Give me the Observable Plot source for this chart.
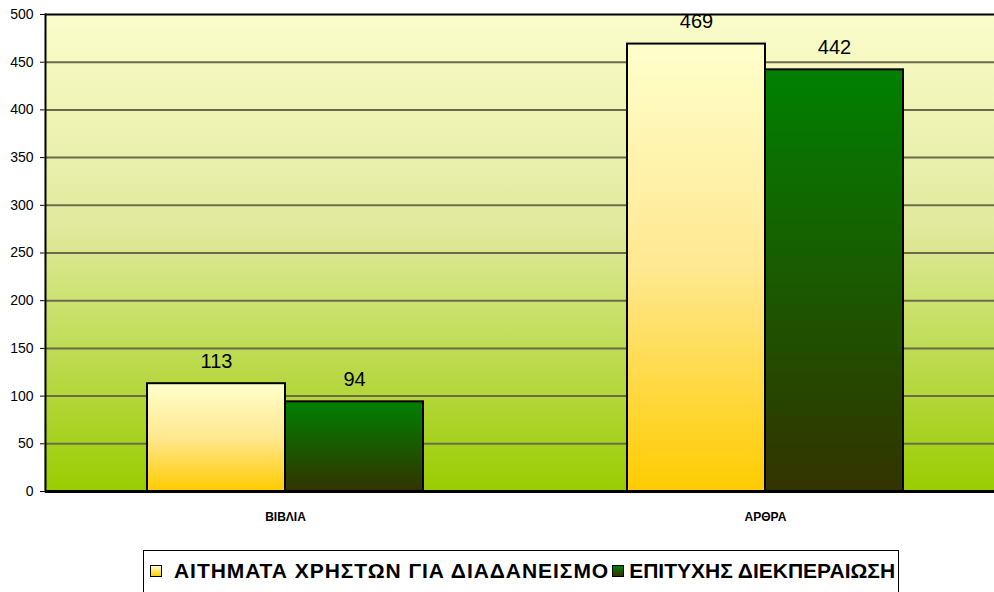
<!DOCTYPE html>
<html>
<head>
<meta charset="utf-8">
<script src="https://cdn.jsdelivr.net/npm/d3@7"></script>
<script src="https://cdn.jsdelivr.net/npm/@observablehq/plot@0.6"></script>
<style>
  body { margin: 0; background: #fff; font-family: "Liberation Sans", Arial, sans-serif; }
  #chart { width: 994px; height: 540px; overflow: hidden; }
  #legend {
    position: absolute; left: 143px; top: 550px; width: 756px; height: 50px;
    border: 1px solid #000; box-sizing: border-box; background: #fff;
    display: flex; align-items: flex-start; padding-top: 8px; padding-left: 6px;
    font-weight: bold; font-size: 21px; color: #000; white-space: nowrap;
  }
  .sw { display: inline-block; width: 10px; height: 10px; border: 1.5px solid #000; margin: 6px 12px 0 0; }
  .item { display: flex; align-items: flex-start; }
  .item.i0 { letter-spacing: 0.95px; margin-right: 3px; }
  .item.i1 { letter-spacing: 0px; }
  .item.i1 .sw { margin-right: 5px; }
</style>
</head>
<body>
<div id="chart"></div>
<div id="legend"></div>
<script>
const categories = ["ΒΙΒΛΙΑ", "ΑΡΘΡΑ"];
const seriesNames = ["ΑΙΤΗΜΑΤΑ ΧΡΗΣΤΩΝ ΓΙΑ ΔΙΑΔΑΝΕΙΣΜΟ", "ΕΠΙΤΥΧΗΣ ΔΙΕΚΠΕΡΑΙΩΣΗ"];
const requests = [113, 469];
const completed = [94, 442];
const yTicks = [0, 50, 100, 150, 200, 250, 300, 350, 400, 450, 500];

const data = categories.flatMap((c, i) => [
  {category: c, series: seriesNames[0], value: requests[i]},
  {category: c, series: seriesNames[1], value: completed[i]}
]);
const dataA = data.filter(d => d.series === seriesNames[0]);
const dataB = data.filter(d => d.series === seriesNames[1]);

const plot = Plot.plot({
  width: 994,
  height: 540,
  marginLeft: 45,
  marginRight: -11,
  marginTop: 14,
  marginBottom: 49,
  style: {fontFamily: "Liberation Sans, Arial, sans-serif", fontSize: "14px", color: "#000", background: "transparent", overflow: "visible"},
  fx: {domain: categories, padding: 0, label: null, tickSize: 0, tickPadding: 21},
  x: {domain: seriesNames, paddingInner: 0, paddingOuter: 0.739, axis: null},
  y: {domain: [0, 500], ticks: yTicks, tickSize: 5, tickPadding: 7, label: null},
  marks: [
    Plot.frame({fill: "url(#bgGrad)", stroke: null, insetLeft: -1, insetRight: -1}),
    Plot.ruleY(yTicks.filter(t => t > 0 && t < 500), {stroke: "#6b6b4c", strokeWidth: 2}),
    Plot.barY(dataA, {fx: "category", x: "series", y: "value", fill: "url(#gradA)", stroke: "#000", strokeWidth: 2}),
    Plot.barY(dataB, {fx: "category", x: "series", y: "value", fill: "url(#gradB)", stroke: "#000", strokeWidth: 2}),
    Plot.ruleY([0], {stroke: "#000", strokeWidth: 3}),
    Plot.ruleY([500], {stroke: "#000", strokeWidth: 2}),
    Plot.frame({anchor: "left", facetAnchor: "left", stroke: "#000", strokeWidth: 2}),
    Plot.text(data, {fx: "category", x: "series", y: "value", text: d => String(d.value), dy: -22, fontSize: 20, fill: "#000"})
  ]
});

// gradients
const svg = d3.select(plot.tagName === "svg" ? plot : plot.querySelector("svg"));
const defs = svg.insert("defs", ":first-child");
function grad(id, stops) {
  const g = defs.append("linearGradient").attr("id", id).attr("x1", 0).attr("y1", 0).attr("x2", 0).attr("y2", 1);
  stops.forEach(([o, c]) => g.append("stop").attr("offset", o).attr("stop-color", c));
}
grad("bgGrad", [[0, "#fbfdcb"], [0.45, "#e0e99c"], [1, "#99cc00"]]);
grad("gradA", [[0, "#ffffcc"], [0.5, "#ffe890"], [1, "#ffcc00"]]);
grad("gradB", [[0, "#008000"], [1, "#333300"]]);
svg.selectAll("g[aria-label='fx-axis tick label']").attr("font-weight", "bold").attr("font-size", 12);

document.getElementById("chart").appendChild(plot);

// legend
const legend = document.getElementById("legend");
const swatchFills = ["linear-gradient(#ffffcc,#ffcc00)", "linear-gradient(#008000,#333300)"];
seriesNames.forEach((s, i) => {
  const item = document.createElement("span");
  item.className = "item i" + i;
  const sw = document.createElement("span");
  sw.className = "sw";
  sw.style.background = swatchFills[i];
  item.appendChild(sw);
  item.appendChild(document.createTextNode(s));
  legend.appendChild(item);
});
</script>
</body>
</html>
